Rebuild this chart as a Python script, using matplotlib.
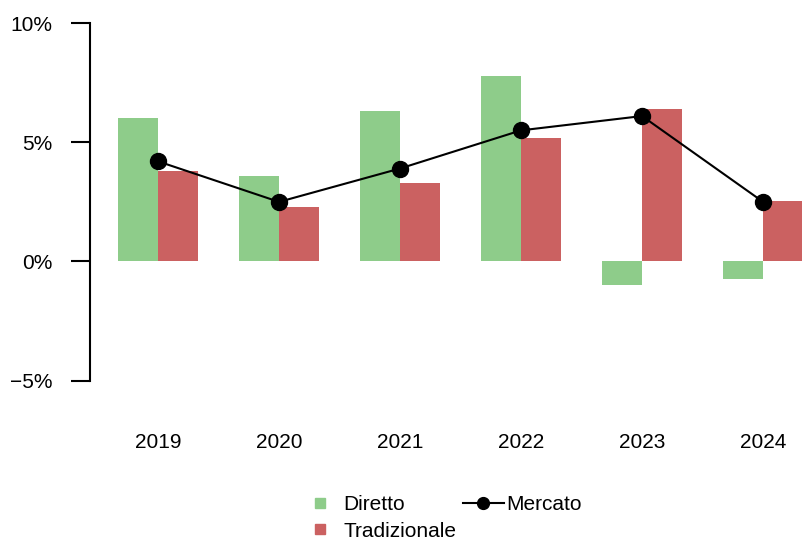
"""
Diretto vs Tradizionale vs Mercato - yearly growth, bars + line.
"""
import numpy as np
import matplotlib
matplotlib.use("Agg")
import matplotlib.pyplot as plt
from matplotlib.lines import Line2D

plt.rcParams["font.family"] = ["Liberation Sans", "DejaVu Sans"]

# ----------------------------------------------------------------------
# Data (percent)
# ----------------------------------------------------------------------
years = ["2019", "2020", "2021", "2022", "2023", "2024"]
diretto = [6.0, 3.6, 6.3, 7.8, -1.0, -0.75]
tradizionale = [3.8, 2.3, 3.3, 5.2, 6.4, 2.55]
mercato = [4.2, 2.5, 3.9, 5.5, 6.1, 2.5]

y_ticks = [-5, 0, 5, 10]
y_labels = ["\u22125%", "0%", "5%", "10%"]

GREEN = "#8ecc8a"
RED = "#cb6161"
FS = 15

W, H = 803, 539
fig = plt.figure(figsize=(W / 100, H / 100), dpi=100)
ax = fig.add_axes([90 / W, 1 - 395 / H, (W - 90) / W, (395 - 9) / H])

x = np.arange(len(years))
bw = 1 / 3
ax.bar(x - bw / 2, diretto, width=bw, color=GREEN, label="Diretto")
ax.bar(x + bw / 2, tradizionale, width=bw, color=RED, label="Tradizionale")
ax.plot(x, mercato, color="black", lw=1.5, marker="o", ms=11.5,
        label="Mercato")

ax.set_xlim(-0.562, 5.33)
ax.set_ylim(-5.6, 10.59)

# base-R look: only left axis, trimmed to tick range
for side in ["top", "right", "bottom"]:
    ax.spines[side].set_visible(False)
ax.spines["left"].set_bounds(-5, 10)
ax.spines["left"].set_linewidth(1.5)

ax.set_yticks(y_ticks, y_labels)
ax.tick_params(axis="y", length=13.7, width=1.5, pad=13.5, labelsize=FS)
ax.set_xticks(x, years)
ax.tick_params(axis="x", length=0, pad=27.5, labelsize=FS)

handles = [
    Line2D([], [], ls="none", marker="s", ms=7.5, color=GREEN),
    Line2D([], [], ls="none", marker="s", ms=7.5, color=RED),
    Line2D([], [], color="black", lw=1.5, marker="o", ms=8.5),
]
fig.legend(handles, ["Diretto", "Tradizionale", "Mercato"], ncol=2,
           loc="upper left", bbox_to_anchor=(299.5 / W, 1 - 495 / H),
           frameon=False, fontsize=FS, handlelength=1.97,
           handletextpad=0.12, columnspacing=0.33, labelspacing=0.37,
           borderpad=0, borderaxespad=0)

fig.savefig("out.png", dpi=100)
